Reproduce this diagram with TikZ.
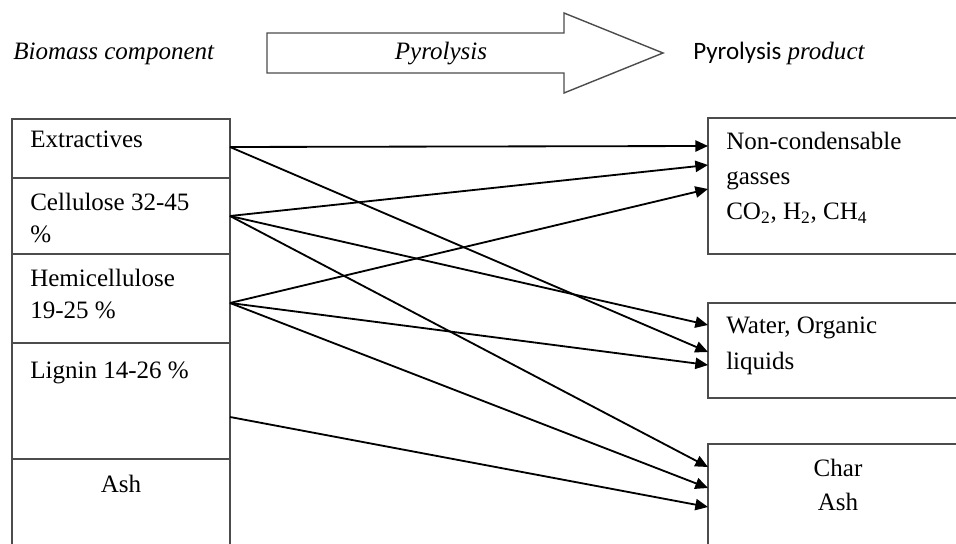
\documentclass[tikz,border=0pt]{standalone}
\usepackage{fontspec}
\setmainfont{Liberation Serif}
\newfontfamily\calfont{Carlito}
\usetikzlibrary{arrows.meta}

\tikzset{
  pil/.style={-{Triangle[length=9pt,width=8pt]}, line width=1.3pt},
  boks/.style={draw=black!70, line width=1pt, inner sep=0pt, outer sep=0pt, anchor=north west},
  tekst/.style={anchor=base west, inner sep=0pt, font=\fontsize{17.8}{24}\selectfont},
}

\begin{document}
\begin{tikzpicture}[x=0.025cm,y=-0.025cm]
		\useasboundingbox (0,0) rectangle (956,544);
		\clip (0,0) rectangle (956,544);
		% headings
		\node[tekst] (hbio) at (13,60) {\itshape Biomass component};
		\draw[boks] (267,33) -- (564,33) -- (564,13) -- (663,53) -- (564,93) -- (564,73) -- (267,73) -- cycle;
		\node[tekst,anchor=base] (hpyr) at (441,60) {\itshape Pyrolysis};
		\node[tekst] (hprod) at (693,60) {{\calfont Pyrolysis} \itshape product};
		% biomass column
		\node[boks,minimum width=5.45cm,minimum height=1.475cm] (extr) at (12,119) {};
		\node[boks,minimum width=5.45cm,minimum height=1.9cm] (cell) at (12,178) {};
		\node[boks,minimum width=5.45cm,minimum height=2.225cm] (hemi) at (12,254) {};
		\node[boks,minimum width=5.45cm,minimum height=2.9cm] (lign) at (12,343) {};
		\node[boks,minimum width=5.45cm,minimum height=2.525cm] (ashL) at (12,459) {};
		\node[tekst] (textr) at (30,148) {Extractives};
		\node[tekst] (tcell) at (30,211) {Cellulose 32-45};
		\node[tekst] (tcell2) at (30,243) {\%};
		\node[tekst] (themi) at (30,287) {Hemicellulose};
		\node[tekst] (themi2) at (30,319) {19-25 \%};
		\node[tekst] (tlign) at (30,379) {Lignin 14-26 \%};
		\node[tekst,anchor=base] (tashL) at (121,493) {Ash};
		% product column
		\node[boks,minimum width=6.5cm,minimum height=3.4cm] (gas) at (708,118) {};
		\node[boks,minimum width=6.5cm,minimum height=2.375cm] (liq) at (708,303) {};
		\node[boks,minimum width=6.5cm,minimum height=2.9cm] (char) at (708,444) {};
		\node[tekst] (tgas) at (726,150) {Non-condensable};
		\node[tekst] (tgas2) at (726,185) {gasses};
		\node[tekst] (tgas3) at (726,220) {CO\textsubscript{2}, H\textsubscript{2}, CH\textsubscript{4}};
		\node[tekst] (tliq) at (726,334) {Water, Organic};
		\node[tekst] (tliq2) at (726,370) {liquids};
		\node[tekst,anchor=base] (tchar) at (838,477) {Char};
		\node[tekst,anchor=base] (tashR) at (838,511) {Ash};
		% arrow ends
		\coordinate (sExt) at (230,147);
		\coordinate (sCel) at (230,216);
		\coordinate (sHem) at (230,303);
		\coordinate (sLig) at (230,417);
		\coordinate (gas1) at (708,146);
		\coordinate (gas2) at (708,165);
		\coordinate (gas3) at (708,189);
		\coordinate (liq1) at (708,325);
		\coordinate (liq2) at (708,352);
		\coordinate (liq3) at (708,365);
		\coordinate (char1) at (708,467);
		\coordinate (char2) at (708,488);
		\coordinate (char3) at (708,507);
		\draw[pil] (sExt) -- (gas1);
		\draw[pil] (sExt) -- (liq2);
		\draw[pil] (sCel) -- (gas2);
		\draw[pil] (sCel) -- (liq1);
		\draw[pil] (sCel) -- (char1);
		\draw[pil] (sHem) -- (gas3);
		\draw[pil] (sHem) -- (liq3);
		\draw[pil] (sHem) -- (char2);
		\draw[pil] (sLig) -- (char3);
	\end{tikzpicture}
\end{document}
